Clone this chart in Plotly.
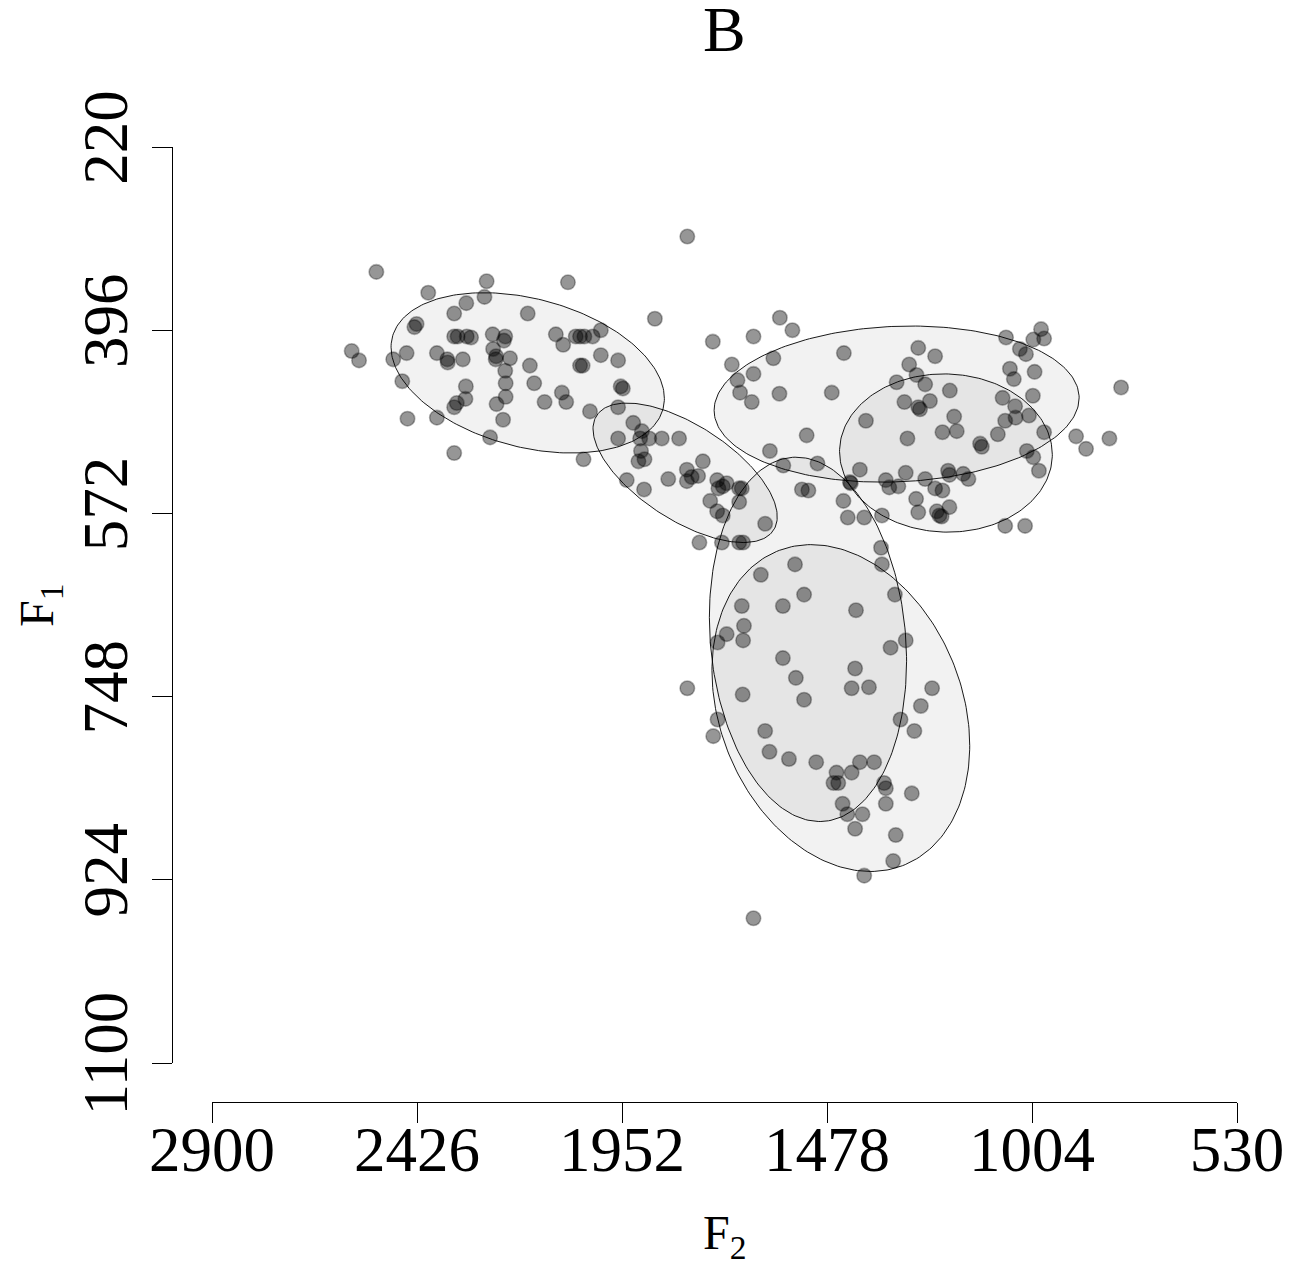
import numpy as np
import plotly.graph_objects as go

# ---- data (F2 on x, F1 on y), Hz ----
f2 = [2520, 2400, 2265, 2077, 2270, 2312, 2340, 2170, 2427, 2432, 2340, 2332, 2311, 2301, 2251,
      2222, 2225, 2105, 2088, 2059, 2049, 2039, 2020, 2001, 2577, 2560, 2481, 2450, 2380, 2356,
      2355, 2320, 2250, 2243, 2244, 2211, 2222, 2221, 2165, 2155, 2049, 2043, 2001, 2460, 2313,
      2314, 2334, 2340, 2242, 2221, 2131, 2091, 2081, 2026, 2448, 2380, 2227, 2257, 2340, 2041,
      1801, 1876, 1587, 1558, 1648, 1742, 1961, 1955, 1950, 1698, 1602, 1648, 1685, 1679, 1652,
      1588, 1961, 1926, 1906, 1961, 1910, 1889, 1860, 1820, 1908, 1914, 1900, 1941, 1901, 1845,
      1802, 1802, 1791, 1776, 1765, 1732, 1729, 1719, 1710, 1681, 1675, 1681, 1748, 1732, 1719,
      1621, 1773, 1721, 1681, 1672, 1610, 1579,
      1439, 1467, 1288, 1267, 1317, 1299, 1267, 1263, 1388, 1525, 1292, 1500, 1402, 1425, 1423,
      1296, 1342, 1334, 1313, 1536, 1521, 1440, 1430, 1392, 1351, 1272, 1267,
      983, 976, 1001, 1064, 1032, 1018, 1228, 1271, 1251, 1055, 1046, 998, 1194, 1240, 1072,
      1043, 1002, 1066, 1042, 1011, 1083, 1184, 1211, 1178, 1124, 1120, 976, 902, 879, 825,
      798, 1016, 1001, 988, 1251, 1198, 1195, 1163, 1151, 1228, 1211, 1195, 1224, 1218, 1213,
      1066, 1020,
      1353, 1351, 1552, 1631, 1531, 1321, 1675, 1580, 1411, 1670, 1710, 1731, 1672, 1296, 1331,
      1580, 1550, 1413, 1801, 1673, 1531, 1421, 1381, 1235, 1261, 1308, 1276, 1731, 1741, 1621,
      1611, 1566, 1503, 1456, 1421, 1402, 1369, 1463, 1452, 1346, 1342, 1282, 1342, 1442, 1431,
      1396, 1413, 1319, 1325, 1392, 1648]
f1 = [340, 360, 349, 350, 364, 370, 380, 380, 390, 393, 402, 402, 402, 403, 400,
      402, 406, 400, 410, 402, 402, 402, 402, 396, 416, 425, 424, 418, 418, 424,
      427, 424, 414, 421, 424, 423, 435, 447, 430, 447, 430, 430, 420, 445, 450,
      462, 466, 470, 467, 460, 465, 456, 465, 474, 481, 480, 482, 499, 514, 520,
      306, 385, 384, 396, 402, 407, 425, 450, 452, 429, 423, 438, 444, 456, 465,
      457, 470, 485, 493, 500, 500, 500, 500, 500, 512, 522, 520, 540, 549, 539,
      530, 541, 537, 536, 522, 540, 548, 546, 543, 548, 548, 561, 560, 570, 574,
      582, 600, 600, 600, 600, 512, 526,
      418, 456, 429, 413, 446, 465, 470, 472, 483, 497, 500, 524, 530, 542, 543,
      533, 540, 547, 546, 549, 550, 560, 576, 576, 574, 558, 571,
      395, 404, 405, 403, 414, 419, 421, 439, 448, 433, 443, 436, 454, 464, 461,
      469, 459, 483, 480, 478, 496, 479, 494, 493, 505, 508, 494, 498, 510, 500,
      451, 512, 518, 531, 539, 531, 535, 534, 539, 548, 550, 566, 570, 574, 575,
      584, 584,
      605, 621, 621, 631, 650, 650, 661, 661, 665, 680, 688, 696, 694, 694, 701,
      711, 730, 721, 740, 746, 751, 740, 739, 740, 757, 770, 781, 770, 786, 781,
      801, 808, 811, 821, 821, 811, 811, 831, 831, 831, 836, 841, 851, 851, 861,
      861, 875, 881, 906, 920, 961]

# ellipses: centre, half extents and correlation (data units)
ell_f2 = [2170, 1806, 1317, 1203, 1522, 1446]
ell_f1 = [437, 533, 467, 514, 693, 759]
ell_hw = [316, 213, 422, 246, 228, 298]
ell_hh = [77, 67, 75, 76, 175, 157]
ell_r = [-0.32, -0.63, 0.08, -0.02, -0.12, -0.23]

x_ticks = [2900, 2426, 1952, 1478, 1004, 530]
y_ticks = [220, 396, 572, 748, 924, 1100]
x_tick_text = [str(v) for v in x_ticks]
y_tick_text = [str(v) for v in y_ticks]

title_text = "B"
x_title = "F<sub>2</sub>"
y_title = "F<sub>1</sub>"

SERIF = "Liberation Serif, Times New Roman, serif"

fig = go.Figure()

t = np.linspace(0, 2 * np.pi, 241)
for cx, cy, hw, hh, r in zip(ell_f2, ell_f1, ell_hw, ell_hh, ell_r):
    ex = cx + hw * np.cos(t)
    ey = cy + hh * (r * np.cos(t) + np.sqrt(1 - r * r) * np.sin(t))
    fig.add_trace(go.Scatter(
        x=ex, y=ey, mode="lines", fill="toself",
        fillcolor="rgba(0,0,0,0.05)",
        line=dict(color="black", width=0.9),
        hoverinfo="skip", showlegend=False))

fig.add_trace(go.Scatter(
    x=f2, y=f1, mode="markers",
    marker=dict(size=14.5, color="rgba(0,0,0,0.41)",
                line=dict(color="rgba(0,0,0,0.3)", width=1.6)),
    hoverinfo="skip", showlegend=False))

W, H = 1290, 1267
ml, mr, mt, mb = 172, 53, 147, 165
pw = W - ml - mr
ph = H - mt - mb

axis_common = dict(
    showgrid=False, zeroline=False, showline=True, linecolor="black", linewidth=1.3,
    ticks="outside", ticklen=20, tickwidth=1.3, tickcolor="black",
    tickfont=dict(family=SERIF, size=63, color="black"),
    anchor="free", position=0, automargin=False,
)

fig.update_layout(
    template="none",
    width=W, height=H,
    margin=dict(l=ml, r=mr, t=mt, b=mb, pad=0, autoexpand=False),
    paper_bgcolor="white", plot_bgcolor="white",
    showlegend=False,
    xaxis=dict(range=[2900, 530], domain=[40 / pw, 1], tickmode="array",
               tickvals=x_ticks, ticktext=x_tick_text, ticklabelstandoff=-28,
               **axis_common),
    yaxis=dict(range=[1100, 220], domain=[39 / ph, 1], tickmode="array",
               tickvals=y_ticks, ticktext=y_tick_text, tickangle=-90,
               **axis_common),
    annotations=[
        dict(text=title_text, xref="x domain", x=0.5, yref="paper",
             y=(1102 - 29) / ph, xanchor="center", yanchor="middle", showarrow=False,
             font=dict(family=SERIF, size=64, color="black")),
        dict(text=x_title, xref="x domain", x=0.5, yref="paper",
             y=(1102 - 1236) / ph, xanchor="center", yanchor="middle", showarrow=False,
             font=dict(family=SERIF, size=48, color="black")),
        dict(text=y_title, xref="paper", x=(40 - ml) / pw, yref="y domain",
             y=0.5, xanchor="center", yanchor="middle", showarrow=False, textangle=-90,
             font=dict(family=SERIF, size=48, color="black")),
    ],
)

fig.write_html(
    "out.html",
    config={"displayModeBar": False},
    post_script="document.body.style.margin='0';document.body.style.overflow='hidden';",
)
